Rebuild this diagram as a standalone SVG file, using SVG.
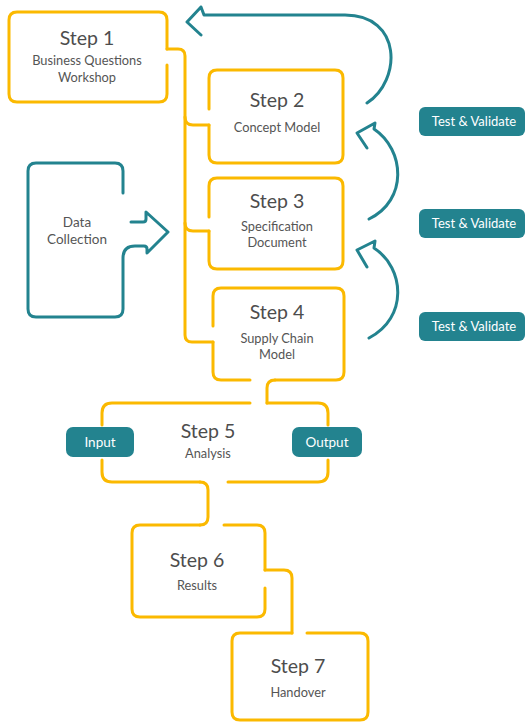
<svg xmlns="http://www.w3.org/2000/svg" width="526" height="723" viewBox="0 0 526 723">
  <style>
    .y { fill: none; stroke: #FBB900; stroke-width: 3; stroke-linecap: round; stroke-linejoin: round; }
    .t { fill: none; stroke: #23838F; stroke-width: 3; stroke-linecap: round; stroke-linejoin: round; }
    .pill { fill: #23838F; }
    text { font-family: Lato, "Noto Sans", sans-serif; text-anchor: middle; }
    .h { font-size: 19.5px; fill: #4D4D4D; }
    .s { font-size: 12.8px; fill: #555555; }
    .w { font-size: 13px; fill: #FFFFFF; }
  </style>
  <rect width="526" height="723" fill="#FFFFFF"/>

  <!-- flow connectors between steps -->
  <g id="connectors">
    <path class="y" d="M167,49 L178,49 Q185,49 185,56 L185,335 Q185,342 192,342 L213,342"/>
    <path class="y" d="M185,117 Q185,125 193,125 L209,125"/>
    <path class="y" d="M185,223 Q185,231 193,231 L209,231"/>
    <path class="y" d="M275,380 Q267,380 267,388 L267,403"/>
    <path class="y" d="M200,482 Q208,482 208,490 L208,517 Q208,525 200,525"/>
    <path class="y" d="M265,570 L284,570 Q292,570 292,578 L292,633"/>
    <!-- feedback loops -->
    <path class="t" d="M367,103 C402,80 402,15 345,15 L204,15 L201,7 L187,22 L201,35"/>
    <path class="t" d="M369,219 C408,200 405,150 374,129 L375,123 L357,133 L367,148"/>
    <path class="t" d="M369,338 C408,318 405,268 374,248 L375,241 L357,250 L367,267"/>
  </g>

  <g id="step1">
    <path class="y" d="M167,65 L167,94 Q167,102 159,102 L17,102 Q9,102 9,94 L9,20 Q9,12 17,12 L159,12 Q167,12 167,20 L167,49"/>
    <text class="h" x="87" y="45">Step 1</text>
    <text class="s" x="87" y="65">Business Questions</text>
    <text class="s" x="87" y="82">Workshop</text>
  </g>

  <g id="step2">
    <path class="y" d="M209,109 L209,78 Q209,70 217,70 L335,70 Q343,70 343,78 L343,155 Q343,163 335,163 L217,163 Q209,163 209,155 L209,125"/>
    <text class="h" x="277" y="107">Step 2</text>
    <text class="s" x="277" y="132">Concept Model</text>
  </g>

  <g id="step3">
    <path class="y" d="M209,217 L209,186 Q209,178 217,178 L335,178 Q343,178 343,186 L343,261 Q343,269 335,269 L217,269 Q209,269 209,261 L209,231"/>
    <text class="h" x="277" y="208">Step 3</text>
    <text class="s" x="277" y="231">Specification</text>
    <text class="s" x="277" y="247">Document</text>
  </g>

  <g id="step4">
    <path class="y" d="M213,326 L213,296 Q213,288 221,288 L336,288 Q344,288 344,296 L344,372 Q344,380 336,380 L275,380"/>
    <path class="y" d="M213,342 L213,372 Q213,380 221,380 L250,380"/>
    <text class="h" x="277" y="319">Step 4</text>
    <text class="s" x="277" y="343">Supply Chain</text>
    <text class="s" x="277" y="359">Model</text>
  </g>

  <g id="data-collection">
    <path class="t" d="M123,193 L123,171 Q123,163 115,163 L36,163 Q28,163 28,171 L28,309 Q28,317 36,317 L115,317 Q123,317 123,309 L123,258 Q123,246 135,246 L144,246 Q147,246 147,249 L147,253 L168,232 L146,212 L146,219 Q146,222 143,222 L131,222"/>
    <text class="s" x="77" y="227" style="font-size:13.5px">Data</text>
    <text class="s" x="77" y="244" style="font-size:13.5px">Collection</text>
  </g>

  <g id="step5">
    <path class="y" d="M250,403 L112,403 Q102,403 102,413 L102,425"/>
    <path class="y" d="M267,403 L318,403 Q328,403 328,413 L328,425"/>
    <path class="y" d="M102,460 L102,472 Q102,482 112,482 L200,482"/>
    <path class="y" d="M328,460 L328,472 Q328,482 318,482 L228,482"/>
    <text class="h" x="208" y="438">Step 5</text>
    <text class="s" x="208" y="458">Analysis</text>
  </g>

  <g id="input">
    <rect class="pill" x="66" y="427" width="68" height="30" rx="7"/>
    <text class="w" x="100" y="447" style="font-size:13.5px">Input</text>
  </g>

  <g id="output">
    <rect class="pill" x="292" y="427" width="70" height="30" rx="7"/>
    <text class="w" x="327" y="447" style="font-size:13.5px">Output</text>
  </g>

  <g id="step6">
    <path class="y" d="M200,525 L140,525 Q132,525 132,533 L132,609 Q132,617 140,617 L257,617 Q265,617 265,609 L265,588"/>
    <path class="y" d="M224,525 L257,525 Q265,525 265,533 L265,570"/>
    <text class="h" x="197" y="567">Step 6</text>
    <text class="s" x="197" y="590">Results</text>
  </g>

  <g id="step7">
    <path class="y" d="M292,633 L240,633 Q232,633 232,641 L232,712 Q232,720 240,720 L360,720 Q368,720 368,712 L368,641 Q368,633 360,633 L307,633"/>
    <text class="h" x="298" y="673">Step 7</text>
    <text class="s" x="298" y="697">Handover</text>
  </g>

  <g id="validate1">
    <rect class="pill" x="419" y="107" width="106" height="29" rx="6"/>
    <text class="w" x="474" y="126">Test &amp; Validate</text>
  </g>
  <g id="validate2">
    <rect class="pill" x="419" y="209" width="106" height="29" rx="6"/>
    <text class="w" x="474" y="228">Test &amp; Validate</text>
  </g>
  <g id="validate3">
    <rect class="pill" x="419" y="312" width="106" height="29" rx="6"/>
    <text class="w" x="474" y="331">Test &amp; Validate</text>
  </g>
</svg>
